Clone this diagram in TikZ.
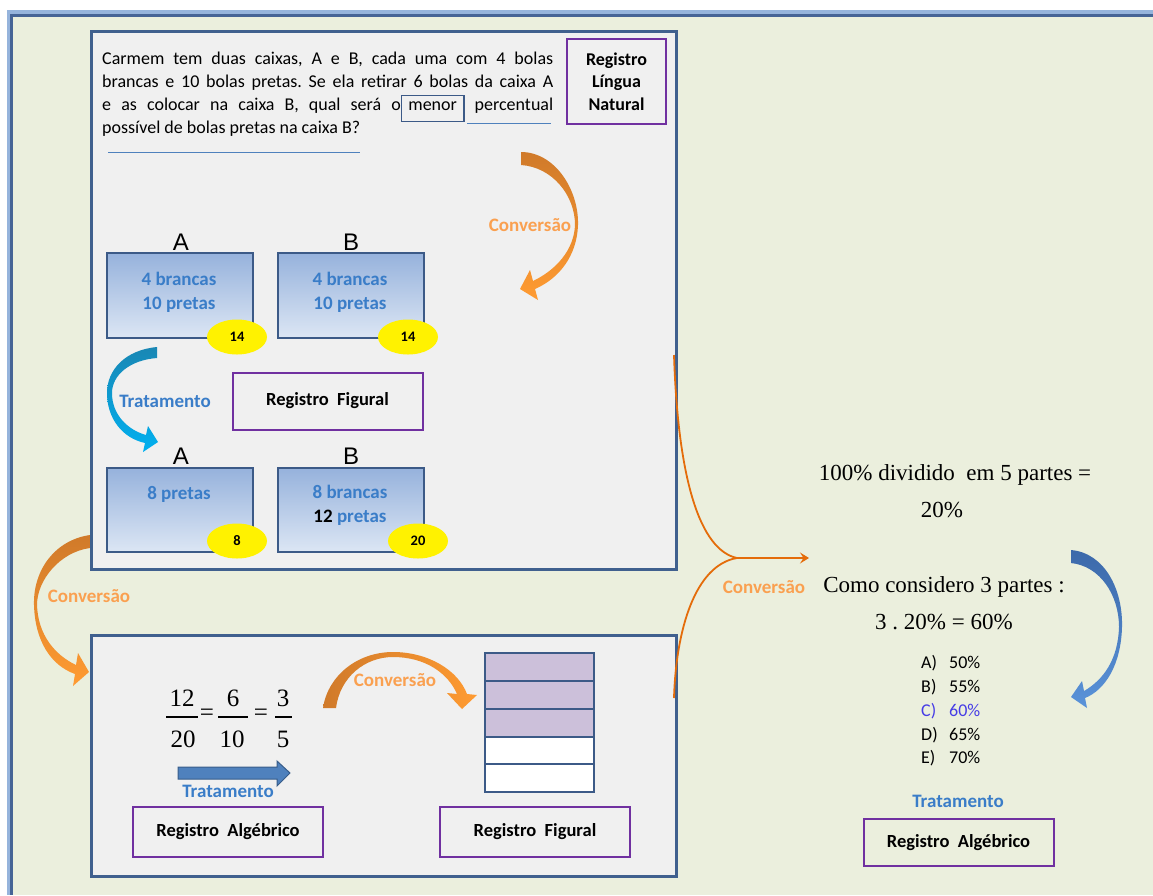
\documentclass[tikz,border=0pt]{standalone}
\usepackage{fontspec}
\setmainfont{Carlito}
\newfontfamily\tms{Liberation Serif}
\newfontfamily\arl{Liberation Sans}
\usetikzlibrary{arrows.meta,shapes.geometric}
\frenchspacing
\definecolor{bg}{RGB}{235,239,221}
\definecolor{panelfill}{RGB}{240,240,240}
\definecolor{panelline}{RGB}{64,96,142}
\definecolor{purp}{RGB}{112,48,160}
\definecolor{boxtop}{RGB}{150,178,220}
\definecolor{boxbot}{RGB}{220,230,244}
\definecolor{boxline}{RGB}{60,90,135}
\definecolor{txtblue}{RGB}{58,125,200}
\definecolor{convlbl}{RGB}{250,160,80}
\definecolor{orgdark}{RGB}{208,122,42}
\definecolor{orglight}{RGB}{255,155,50}
\definecolor{bracecol}{RGB}{228,108,10}
\definecolor{trdark}{RGB}{25,135,180}
\definecolor{trlight}{RGB}{0,176,240}
\definecolor{bldark}{RGB}{60,105,170}
\definecolor{bllight}{RGB}{90,147,217}
\definecolor{barfill}{RGB}{204,192,218}
\definecolor{choiceC}{RGB}{70,60,230}
\definecolor{lightframe}{RGB}{150,180,220}
\definecolor{darkframe}{RGB}{70,100,150}
\definecolor{ulinecol}{RGB}{79,129,189}
\definecolor{blockfill}{RGB}{79,129,189}
\definecolor{blockline}{RGB}{56,93,138}
\newcommand\menorbox{{\color{boxline}\setlength\fboxrule{1.6pt}\setlength\fboxsep{0pt}\fbox{\color{black}\rule[-10.5pt]{0pt}{24.5pt}\hspace{6pt}menor\hspace{6pt}}}}
\begin{document}
\begin{tikzpicture}[x=1pt,y=-1pt,
  panel/.style={draw=panelline, line width=2.5pt, fill=panelfill, anchor=north west, inner sep=0pt},
  reg/.style={draw=purp, line width=2pt, font=\fontsize{18.5}{22}\selectfont\bfseries, inner sep=0pt, align=center},
  ballbox/.style={draw=boxline, line width=2pt, top color=boxtop, bottom color=boxbot, minimum width=146pt, minimum height=85pt, anchor=north west, inner sep=0pt},
  balltxt/.style={font=\fontsize{19}{23.5}\selectfont\bfseries, text=txtblue, align=center, inner sep=0pt},
  cnt/.style={ellipse, fill=yellow, minimum width=60pt, minimum height=35pt, inner sep=0pt, font=\fontsize{14.5}{16}\selectfont\bfseries},
  lbl/.style={font=\arl\fontsize{24}{26}\selectfont, inner sep=0pt},
  convtxt/.style={font=\fontsize{19}{20}\selectfont\bfseries, text=convlbl, inner sep=0pt},
  trattxt/.style={font=\fontsize{19}{20}\selectfont\bfseries, text=txtblue, inner sep=0pt},
  serif/.style={font=\tms\fontsize{23}{26}\selectfont, anchor=base, inner sep=0pt},
  fracnum/.style={font=\tms\fontsize{25}{28}\selectfont, anchor=base, inner sep=0pt},
  choice/.style={font=\fontsize{18}{20}\selectfont, anchor=base west, inner sep=0pt},
  fracbar/.style={line width=1.2pt},
  uline/.style={draw=ulinecol, line width=1pt},
  bracel/.style={draw=bracecol, line width=1.8pt},
  barrow/.style={draw=boxline, line width=2pt, minimum width=109pt, minimum height=28pt, inner sep=0pt}
]
\useasboundingbox (0,0) rectangle (1153,895);
\fill[white] (0,0) rectangle (1153,895);
\fill[lightframe] (7,10) rectangle (1153,895);
\fill[darkframe] (10,14) rectangle (1153,895);
\fill[bg] (13,17) rectangle (1153,895);

% panels
\node[panel, minimum width=585pt, minimum height=538pt] (tp) at (90,30) {};
\node[panel, minimum width=585pt, minimum height=241pt] (bp) at (90,634) {};

% problem text
\node[anchor=north west, inner sep=0pt, font=\fontsize{18}{23}\selectfont] (prob) at (102,51.5) {\vbox{\hsize=451pt \lineskiplimit=-50pt \lineskip=0pt \hbadness=10000
\hbox to 451pt{Carmem tem duas caixas, A e B, cada uma com 4 bolas}
\hbox to 451pt{brancas e 10 bolas pretas. Se ela retirar 6 bolas da caixa A}
\hbox to 451pt{e as colocar na caixa B, qual será o\menorbox{} percentual}
\hbox{possível de bolas pretas na caixa B?}}};
\draw[uline] (467,123) -- (551,123);
\draw[uline] (108,152) -- (360,152);

\node[reg, minimum width=99pt, minimum height=85pt, font=\fontsize{18}{22.5}\selectfont\bfseries] (rln) at (616.5,81.5) {Registro\\Língua\\Natural};

% top conversion arrow
\shade[top color=orgdark, bottom color=orglight] (521,152) .. controls (555,152) and (579,190) .. (578,225) .. controls (577,255) and (560,278) .. (535,289) -- (538,300) -- (520,289) -- (530,270) -- (533,281) .. controls (556,270) and (574,250) .. (575,225) .. controls (575,195) and (552,167) .. (521,165) -- cycle;
\node[convtxt] (conv1) at (530,225) {Conversão};

% first row of boxes
\node[lbl] (la1) at (181,242) {A};
\node[lbl] (lb1) at (351,242) {B};
\node[ballbox] (a1) at (106,252) {};
\node[ballbox] (b1) at (277,252) {};
\node[balltxt] (a1t) at (179,292.5) {4 brancas\\10 pretas};
\node[balltxt] (b1t) at (350,292.5) {4 brancas\\10 pretas};
\node[cnt] (e1) at (237,337) {14};
\node[cnt] (e2) at (408,337) {14};

% tratamento curved arrow
\shade[top color=trdark, bottom color=trlight] (157,347) .. controls (125,350) and (107,370) .. (107,393) .. controls (107,418) and (122,438) .. (145,443) -- (143,452) -- (158,442) -- (148,426) -- (146,435) .. controls (128,430) and (112,415) .. (112,393) .. controls (112,375) and (130,360) .. (157,358) -- cycle;
\node[trattxt] (trat1) at (165,401) {Tratamento};
\node[reg, minimum width=190pt, minimum height=57pt] (rf1) at (327.5,401) {Registro\ \ Figural};

% second row of boxes
\node[lbl] (la2) at (181,456) {A};
\node[lbl] (lb2) at (351,456) {B};
\node[ballbox, minimum height=84pt] (a2) at (106,467) {};
\node[ballbox, minimum height=84pt] (b2) at (277,467) {};
\node[balltxt] (a2t) at (179,494) {8 pretas};
\node[balltxt] (b2t) at (350,505.5) {8 brancas\\\textcolor{black}{12} pretas};
\node[cnt] (e3) at (237,541) {8};
\node[cnt] (e4) at (418,541) {20};

% left conversion arrow
\shade[top color=orgdark, bottom color=orglight] (90,535) .. controls (55,540) and (33,570) .. (34,605) .. controls (35,640) and (50,665) .. (75,674) -- (73,686) -- (89,672) -- (78,653) -- (76,665) .. controls (55,655) and (38,635) .. (37,605) .. controls (37,580) and (60,552) .. (90,548) -- cycle;
\node[convtxt] (conv2) at (89,596) {Conversão};

% bottom panel: fractions
\node[fracnum] (n1) at (182,706) {12};
\node[fracnum] (d1) at (183,747) {20};
\draw[fracbar] (166,717) -- (198,717);
\node[font=\tms\fontsize{25}{28}\selectfont, inner sep=0pt] (eq1) at (207,714.5) {=};
\node[fracnum] (n2) at (233,706) {6};
\node[fracnum] (d2) at (232,747) {10};
\draw[fracbar] (218,717) -- (248,717);
\node[font=\tms\fontsize{25}{28}\selectfont, inner sep=0pt] (eq2) at (261,714.5) {=};
\node[fracnum] (n3) at (283,706) {3};
\node[fracnum] (d3) at (283,747) {5};
\draw[fracbar] (275,717) -- (292,717);

% block arrow tratamento
\filldraw[fill=blockfill, draw=blockline, line width=1pt] (178,767) -- (277,767) -- (277,761) -- (290,773) -- (277,786) -- (277,779) -- (178,779) -- cycle;
\node[trattxt] (trat2) at (228,791) {Tratamento};
\node[reg, minimum width=190pt, minimum height=50pt] (ra1) at (228,832) {Registro\ \ Algébrico};

% bottom conversion arrow
\shade[left color=orgdark, right color=orglight] (323,708) .. controls (328,675) and (358,652) .. (393,652) .. controls (428,652) and (458,670) .. (467,694) -- (477,695) -- (462,709) -- (447,693) -- (457,694) .. controls (448,673) and (425,657) .. (393,657) .. controls (365,657) and (340,677) .. (336,708) -- cycle;
\node[convtxt] (conv3) at (395,680) {Conversão};

% bars
\foreach \i/\yy/\f in {1/667/barfill,2/695/barfill,3/723/barfill,4/750.5/white,5/778/white}
  \node[barrow, fill=\f] (bar\i) at (539.5,\yy) {};
\node[reg, minimum width=190pt, minimum height=50pt] (rf2) at (535,832) {Registro\ \ Figural};

% brace connector
\coordinate (bs1) at (674,355);
\coordinate (bs2) at (674,698);
\coordinate (bj) at (737,558);
\coordinate (bt) at (809,558);
\draw[bracel] (bs1) .. controls (678,480) and (700,550) .. (bj);
\draw[bracel] (bs2) .. controls (676,630) and (695,565) .. (bj);
\draw[bracel, -{Stealth[length=9pt,width=11pt,inset=3.5pt]}] (bj) -- (bt);
\node[convtxt] (conv4) at (764,587) {Conversão};

% right texts
\node[serif] (t1) at (955,480) {100\% dividido\ \ em 5 partes =};
\node[serif] (t2) at (942,517) {20\%};
\node[serif] (t3) at (944,592) {Como considero 3 partes :};
\node[serif] (t4) at (944,629) {3 . 20\% = 60\%};

\node[choice] (ca) at (921,668) {\makebox[28pt][l]{A)}50\%};
\node[choice] (cb) at (921,692) {\makebox[28pt][l]{B)}55\%};
\node[choice, text=choiceC] (cc) at (921,716) {\makebox[28pt][l]{C)}60\%};
\node[choice] (cd) at (921,740) {\makebox[28pt][l]{D)}65\%};
\node[choice] (ce) at (921,763) {\makebox[28pt][l]{E)}70\%};

% right blue arrow
\shade[top color=bldark, bottom color=bllight] (1071,550) .. controls (1105,553) and (1123,590) .. (1122,627) .. controls (1121,665) and (1105,690) .. (1085,698) -- (1087,708) -- (1071,697) -- (1082,681) -- (1084,691) .. controls (1103,680) and (1118,660) .. (1119,627) .. controls (1119,595) and (1100,566) .. (1071,563) -- cycle;

\node[trattxt] (trat3) at (958,801) {Tratamento};
\node[reg, minimum width=190pt, minimum height=47pt] (ra2) at (958.5,842.5) {Registro\ \ Algébrico};
\end{tikzpicture}
\end{document}
